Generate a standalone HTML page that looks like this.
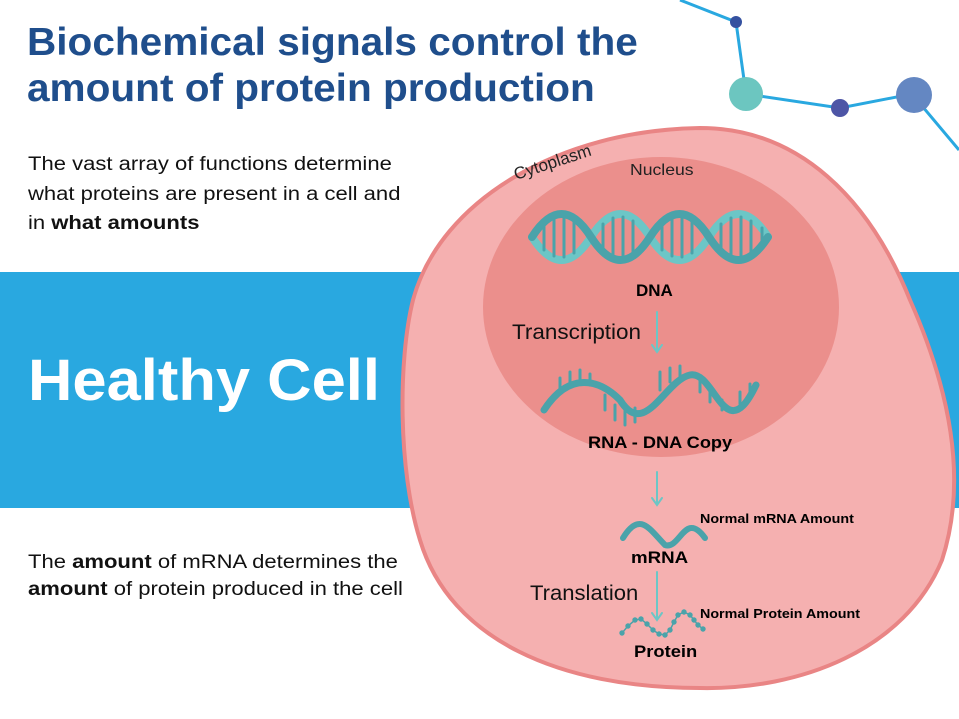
<!DOCTYPE html>
<html><head><style>
body{margin:0;width:959px;height:719px;overflow:hidden;background:#fff;font-family:"Liberation Sans","DejaVu Sans",sans-serif;position:relative}
.t{position:absolute;white-space:nowrap;transform-origin:0 0}
</style></head><body>
<svg width="959" height="719" style="position:absolute;left:0;top:0">
<rect x="0" y="272" width="959" height="236" fill="#29a8e0"/>
<g stroke="#29a8e0" stroke-width="3" fill="none">
<polyline points="680,0 736,22 746,94 840,108 912,94 959,150"/>
</g>
<circle cx="736" cy="22" r="6" fill="#3551a0"/>
<circle cx="746" cy="94" r="17" fill="#6cc6c0"/>
<circle cx="840" cy="108" r="9" fill="#4d55a6"/>
<circle cx="914" cy="95" r="18" fill="#6487c2"/>
<path d="M700,128 C800,128 870,200 910,300 C950,390 968,480 942,560 C905,650 800,690 700,688 C560,688 450,640 420,540 C398,470 398,360 413,300 C440,200 560,130 700,128 Z" fill="#f5b0b0" stroke="#e98585" stroke-width="4"/>
<ellipse cx="661" cy="307" rx="178" ry="150" fill="#eb8f8c"/>
<g fill="none" stroke-linecap="round">
<path d="M532,237 q29.5,46 59,0 t59,0 t59,0 t59,0" stroke="#6cc6c6" stroke-width="8"/>
<g stroke="#4aa3aa" stroke-width="3">
<path d="M544,224V250 M554,218V256 M564,217V257 M574,221V253 M603,224V250 M613,218V256 M623,217V257 M633,221V253 M662,224V250 M672,218V256 M682,217V257 M692,221V253 M721,224V250 M731,218V256 M741,217V257 M751,221V253 M762,228V248"/>
</g>
<path d="M532,237 q29.5,-46 59,0 t59,0 t59,0 t59,0" stroke="#4aa3aa" stroke-width="8"/>
<path d="M544,410 C570,370 600,380 620,400 C645,440 665,380 690,375 C715,370 725,450 756,385" stroke="#4aa3aa" stroke-width="7"/>
<g stroke="#4aa3aa" stroke-width="3">
<path d="M560,392V378 M570,386V372 M580,383V370 M590,385V374 M605,395V410 M615,405V420 M625,410V425 M635,408V422 M660,390V372 M670,382V368 M680,378V366 M700,380V392 M710,390V402 M722,400V410 M740,404V392 M750,396V384"/>
</g>
<path d="M623,538 C640,510 650,530 665,545 C680,550 685,510 705,538" stroke="#4aa3aa" stroke-width="6"/>
<polyline points="622,633 628,626 635,620 641,619 647,624 653,630 659,634 665,635 670,630 674,622 678,615 684,612 690,615 694,620 698,625 703,629" stroke="#4aa3aa" stroke-width="1.5"/>
<path d="M657,312 V352 M652,345 L657,352 L662,345" stroke="#6cc6c6" stroke-width="2"/>
<path d="M657,472 V505 M652,498 L657,505 L662,498" stroke="#6cc6c6" stroke-width="2"/>
<path d="M657,572 V620 M652,613 L657,620 L662,613" stroke="#6cc6c6" stroke-width="2"/>
</g>
<g fill="#4aa3aa">
<circle cx="622" cy="633" r="2.7"/><circle cx="628" cy="626" r="2.7"/><circle cx="635" cy="620" r="2.7"/><circle cx="641" cy="619" r="2.7"/><circle cx="647" cy="624" r="2.7"/><circle cx="653" cy="630" r="2.7"/><circle cx="659" cy="634" r="2.7"/><circle cx="665" cy="635" r="2.7"/><circle cx="670" cy="630" r="2.7"/><circle cx="674" cy="622" r="2.7"/><circle cx="678" cy="615" r="2.7"/><circle cx="684" cy="612" r="2.7"/><circle cx="690" cy="615" r="2.7"/><circle cx="694" cy="620" r="2.7"/><circle cx="698" cy="625" r="2.7"/><circle cx="703" cy="629" r="2.7"/>
</g>
<text x="516" y="180" transform="rotate(-18 516 180)" font-size="17" font-family="Liberation Sans,sans-serif" fill="#222">Cytoplasm</text>
</svg>
<div class="t" style="left:27px;top:20px;font-size:39px;font-weight:bold;color:#1f4e8c;line-height:46px;transform:scaleX(1.04)">Biochemical signals control the<br>amount of protein production</div>
<div class="t" style="left:28px;top:150px;font-size:19px;line-height:29.5px;color:#111;transform:scaleX(1.16)">The vast array of functions determine<br>what proteins are present in a cell and<br>in <b>what amounts</b></div>
<div class="t" style="left:28px;top:347px;font-size:58px;font-weight:bold;color:#fff;transform:scaleX(1.06)">Healthy Cell</div>
<div class="t" style="left:28px;top:549px;font-size:19px;line-height:27px;color:#111;transform:scaleX(1.16)">The <b>amount</b> of mRNA determines the<br><b>amount</b> of protein produced in the cell</div>
<div class="t" style="left:630px;top:162px;font-size:16px;color:#222;transform:scaleX(1.1)">Nucleus</div>
<div class="t" style="left:636px;top:281px;font-size:17px;font-weight:bold">DNA</div>
<div class="t" style="left:512px;top:321px;font-size:21px;color:#111;transform:scaleX(1.07)">Transcription</div>
<div class="t" style="left:588px;top:433px;font-size:17px;font-weight:bold;transform:scaleX(1.07)">RNA - DNA Copy</div>
<div class="t" style="left:700px;top:511px;font-size:13px;font-weight:bold;transform:scaleX(1.1)">Normal mRNA Amount</div>
<div class="t" style="left:631px;top:548px;font-size:17px;font-weight:bold;transform:scaleX(1.1)">mRNA</div>
<div class="t" style="left:530px;top:582px;font-size:21px;color:#111;transform:scaleX(1.05)">Translation</div>
<div class="t" style="left:700px;top:606px;font-size:13px;font-weight:bold;transform:scaleX(1.1)">Normal Protein Amount</div>
<div class="t" style="left:634px;top:642px;font-size:17px;font-weight:bold;transform:scaleX(1.08)">Protein</div>
</body></html>
